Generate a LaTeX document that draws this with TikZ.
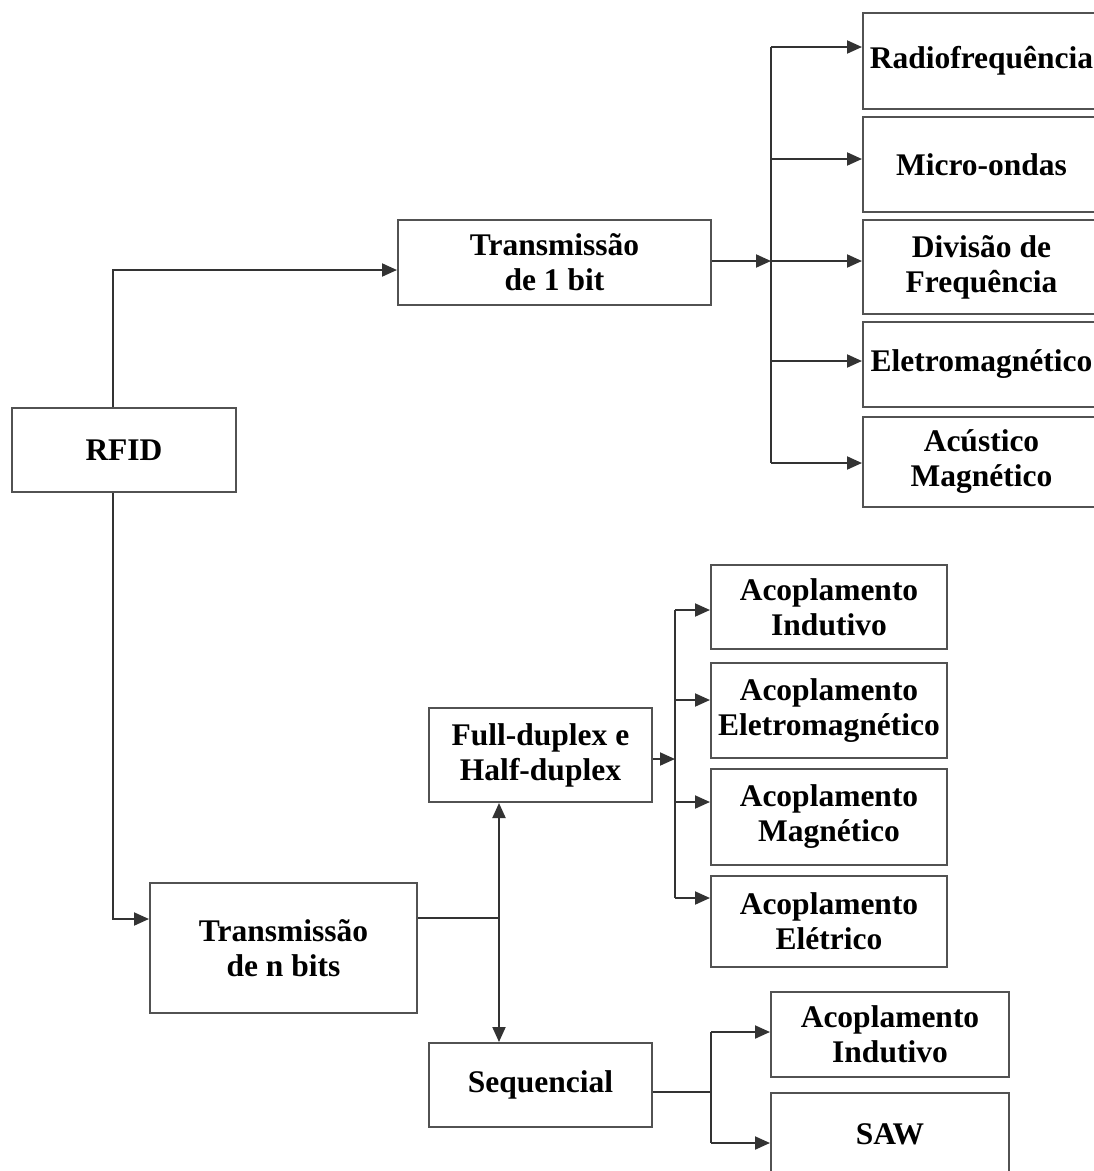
\documentclass[tikz,border=0pt]{standalone}
\usepackage{fontspec}
\setmainfont{Liberation Serif}
\usetikzlibrary{arrows.meta}
\begin{document}
\begin{tikzpicture}[x=1pt,y=-1pt,
  box/.style={draw=black!68, line width=2pt, fill=white, inner sep=0pt,
    align=center, font=\fontsize{31.5}{35}\selectfont\bfseries},
  wire/.style={draw=black!80, line width=2pt},
  arr/.style={wire, -{Triangle[length=15pt,width=13pt]}}]
\useasboundingbox (0,0) rectangle (1094,1171);
\fill[white] (0,0) rectangle (1094,1171);
\clip (0,0) rectangle (1094,1171);

% root and first level
\node[box, minimum width=224pt, minimum height=84pt] (rfid) at (124,450) {RFID};
\node[box, minimum width=313pt, minimum height=85pt] (t1) at (554.5,262.5) {Transmissão\\de 1 bit};
\node[box, minimum width=267pt, minimum height=130pt] (tn) at (283.5,948) {Transmissão\\de n bits};

% 1-bit techniques
\node[box, minimum width=237pt, minimum height=96pt] (radio) at (981.5,61) {Radiofrequência};
\node[box, minimum width=237pt, minimum height=95pt] (micro) at (981.5,164.5) {Micro-ondas};
\node[box, minimum width=237pt, minimum height=94pt] (div) at (981.5,267) {Divisão de\\Frequência};
\node[box, minimum width=237pt, minimum height=85pt] (eletro) at (981.5,364.5) {Eletromagnético};
\node[box, minimum width=237pt, minimum height=90pt] (acus) at (981.5,462) {Acústico\\Magnético};

% n-bit branches
\node[box, minimum width=223pt, minimum height=94pt] (fd) at (540.5,755) {Full-duplex e\\Half-duplex};
\node[box, minimum width=223pt, minimum height=84pt] (seq) at (540.5,1085) {Sequencial};

% full/half-duplex couplings
\node[box, minimum width=236pt, minimum height=84pt] (ai1) at (829,607) {Acoplamento\\Indutivo};
\node[box, minimum width=236pt, minimum height=95pt] (ae) at (829,710.5) {Acoplamento\\Eletromagnético};
\node[box, minimum width=236pt, minimum height=96pt] (am) at (829,817) {Acoplamento\\Magnético};
\node[box, minimum width=236pt, minimum height=91pt] (ael) at (829,921.5) {Acoplamento\\Elétrico};

% sequential couplings
\node[box, minimum width=238pt, minimum height=85pt] (ai2) at (890,1034.5) {Acoplamento\\Indutivo};
\node[box, minimum width=238pt, minimum height=82pt] (saw) at (890,1134) {SAW};

% RFID to the two transmission types
\coordinate (up) at (113,270);
\coordinate (dn) at (113,919);
\draw[arr] (rfid.north -| up) -- (up) -- (up -| t1.west);
\draw[arr] (rfid.south -| dn) -- (dn) -- (dn -| tn.west);

% 1-bit bus
\coordinate (b1) at (771,47);
\coordinate (b2) at (771,159);
\coordinate (b3) at (771,261);
\coordinate (b4) at (771,361);
\coordinate (b5) at (771,463);
\draw[arr] (b3 -| t1.east) -- (b3);
\draw[wire] (b1) -- (b5);
\draw[arr] (b1) -- (b1 -| radio.west);
\draw[arr] (b2) -- (b2 -| micro.west);
\draw[arr] (b3) -- (b3 -| div.west);
\draw[arr] (b4) -- (b4 -| eletro.west);
\draw[arr] (b5) -- (b5 -| acus.west);

% n-bit split
\coordinate (j) at (499,918);
\draw[wire] (j -| tn.east) -- (j);
\draw[arr] (j) -- (j |- fd.south);
\draw[arr] (j) -- (j |- seq.north);

% full/half-duplex bus
\coordinate (c0) at (675,759);
\coordinate (c1) at (675,610);
\coordinate (c2) at (675,700);
\coordinate (c3) at (675,802);
\coordinate (c4) at (675,898);
\draw[arr] (c0 -| fd.east) -- (c0);
\draw[wire] (c1) -- (c4);
\draw[arr] (c1) -- (c1 -| ai1.west);
\draw[arr] (c2) -- (c2 -| ae.west);
\draw[arr] (c3) -- (c3 -| am.west);
\draw[arr] (c4) -- (c4 -| ael.west);

% sequential bus
\coordinate (s0) at (711,1092);
\coordinate (s1) at (711,1032);
\coordinate (s2) at (711,1143);
\draw[wire] (s0 -| seq.east) -- (s0);
\draw[wire] (s1) -- (s2);
\draw[arr] (s1) -- (s1 -| ai2.west);
\draw[arr] (s2) -- (s2 -| saw.west);
\end{tikzpicture}
\end{document}
